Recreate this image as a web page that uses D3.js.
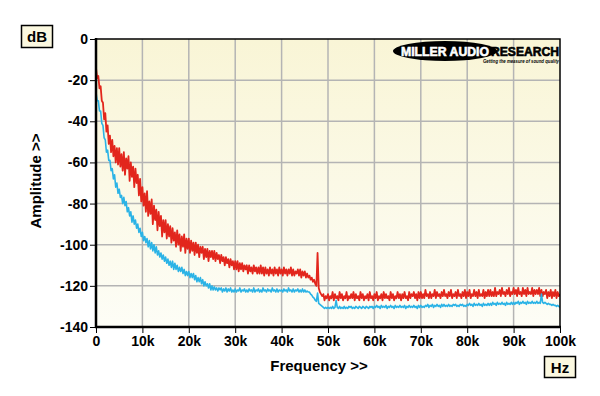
<!DOCTYPE html>
<html><head><meta charset="utf-8">
<script src="https://cdn.jsdelivr.net/npm/d3@7"></script>
<style>
html,body{margin:0;padding:0;background:#fff;}
svg{display:block;font-family:"Liberation Sans",Arial,sans-serif;}
</style></head>
<body>
<svg id="chart" width="600" height="396"></svg>
<script>
// ---- data ----
const stepHz = 250;
const freqHz = d3.range(0, 100000 + stepHz, stepHz); // 401 analysis bins
const redDb = [
-14,-19,-18,-24,-23,-30,-31,-39,-36,-45,-42,-51,-47,-55,-49,-57,-52,-60,-53,-61,
-53,-62,-56,-64,-55,-66,-58,-63,-57,-69,-60,-67,-62,-72,-63,-70,-66,-76,-68,-79,
-72,-81,-75,-84,-74,-86,-79,-85,-78,-90,-81,-88,-83,-93,-84,-91,-86,-96,-88,-94,
-88,-97,-90,-96,-91,-99,-92,-98,-94,-101,-93,-100,-95,-103,-96,-101,-95,-104,-97,-102,
-97,-104,-98,-103,-99,-105,-99,-104,-100,-106,-101,-104,-101,-107,-102,-106,-102,-108,-103,-106,
-103,-107,-103,-108,-104,-107,-105,-109,-105,-108,-106,-110,-106,-109,-107,-111,-107,-110,-108,-112,
-108,-112,-108,-113,-109,-112,-109,-113,-110,-112,-110,-114,-110,-113,-111,-114,-110,-113,-111,-114,
-111,-114,-110,-114,-111,-115,-111,-114,-112,-115,-111,-114,-112,-115,-111,-114,-112,-115,-111,-114,
-112,-115,-111,-114,-112,-115,-112,-114,-111,-115,-112,-115,-113,-114,-112,-115,-112,-116,-113,-115,
-113,-116,-114,-116,-115,-117,-116,-118,-117,-119,-120,-104,-121,-123,-124,-125,-124,-127,-125,-126,
-124,-127,-125,-126,-123,-127,-124,-126,-125,-127,-123,-126,-124,-127,-125,-126,-123,-127,-125,-126,
-124,-126,-123,-127,-124,-126,-125,-127,-123,-126,-124,-127,-125,-126,-124,-127,-123,-126,-125,-127,
-124,-126,-123,-127,-125,-126,-124,-127,-123,-126,-124,-126,-125,-127,-123,-126,-124,-127,-125,-126,
-123,-126,-124,-127,-124,-126,-123,-126,-125,-127,-123,-126,-124,-125,-123,-126,-124,-127,-123,-126,
-123,-126,-124,-126,-122,-125,-124,-126,-123,-126,-124,-125,-122,-126,-123,-125,-124,-126,-123,-125,
-122,-125,-124,-126,-123,-125,-122,-126,-124,-125,-123,-126,-122,-125,-124,-126,-123,-125,-122,-126,
-123,-125,-122,-126,-124,-125,-122,-125,-123,-126,-122,-125,-124,-125,-122,-126,-123,-125,-122,-125,
-122,-125,-123,-125,-121,-125,-123,-124,-122,-125,-121,-124,-123,-125,-122,-124,-121,-125,-123,-124,
-121,-124,-122,-125,-121,-124,-123,-125,-121,-124,-122,-125,-121,-124,-123,-124,-121,-125,-122,-124,
-122,-124,-121,-125,-122,-125,-123,-124,-122,-126,-123,-125,-122,-126,-123,-125,-122,-126,-123,-125,
-124];
const blueDb = [
-26,-30,-30,-35,-35,-41,-42,-48,-49,-55,-54,-59,-59,-64,-63,-68,-66,-72,-70,-75,
-73,-77,-76,-80,-77,-81,-79,-84,-82,-86,-84,-89,-86,-90,-88,-92,-90,-94,-92,-96,
-94,-98,-96,-99,-97,-101,-98,-102,-99,-103,-100,-104,-101,-105,-103,-106,-104,-107,-105,-108,
-106,-109,-107,-110,-108,-111,-108,-112,-109,-112,-110,-113,-111,-113,-111,-114,-112,-115,-113,-115,
-113,-116,-114,-116,-114,-117,-115,-118,-116,-118,-116,-119,-117,-120,-118,-120,-119,-121,-119,-122,
-120,-122,-120.5,-122,-121,-122.5,-121,-122,-121,-123,-121.5,-122.5,-121,-123,-121.5,-122.5,-121,-123,-122,-123,
-121.5,-123,-122,-122.5,-121,-123,-122,-122.5,-121.5,-123,-122,-123,-121.5,-122.5,-122,-123,-121,-123,-122,-122.5,
-121.5,-123,-122,-123,-121,-122.5,-122,-123,-121.5,-122.5,-122,-123,-121,-122.5,-122,-123,-121.5,-123,-122,-122.5,
-122,-123,-121.5,-122.5,-122,-123,-121,-122.5,-122,-123,-121.5,-123,-122,-122.5,-121.5,-123,-122,-123,-121.5,-123,
-122,-123,-122.5,-123,-123,-124,-124.5,-125.5,-126,-127,-127.5,-123.5,-128.5,-129,-129.5,-130,-130.5,-131,-130.5,-131,
-130.5,-131,-130.5,-131,-130,-131,-130.5,-127,-130.5,-131,-130,-131,-130.5,-131,-130,-131,-130.5,-131,-130,-130.5,
-130,-131,-130.5,-131,-130,-130.5,-131,-130,-130.5,-131,-130,-130.5,-131,-130,-130.5,-131,-130,-130.5,-130,-131,
-130,-130.5,-129.5,-130.5,-130,-131,-129.5,-130.5,-130,-130.5,-129.5,-131,-130,-130.5,-129.5,-130.5,-130,-131,-129.5,-130.5,
-130,-130.5,-129.5,-130.5,-130,-130.5,-129.5,-131,-130,-130.5,-129.5,-130.5,-130,-130.5,-129.5,-130.5,-130,-131,-129.5,-130.5,
-129.5,-130.5,-130,-130.5,-129.5,-130,-129,-130.5,-129.5,-130,-129,-130.5,-129.5,-130,-129,-130,-129.5,-130.5,-129,-130,
-129,-130,-129.5,-130,-129,-130,-129.5,-130,-129,-129.5,-129,-130,-129.5,-130,-129,-129.5,-129,-130,-129.5,-130,
-129,-129.5,-128.5,-129.5,-129,-130,-128.5,-129.5,-129,-129.5,-128.5,-129.5,-129,-130,-128.5,-129.5,-129,-129.5,-128.5,-129.5,
-128.5,-129.5,-128,-129,-128.5,-129.5,-128,-129,-128.5,-129,-128,-129,-128.5,-129.5,-128,-129,-128.5,-129,-128,-129,
-128,-129,-128,-128.5,-127.5,-129,-128,-128.5,-127.5,-128.5,-128,-129,-127.5,-128.5,-128,-128.5,-127.5,-128.5,-128,-128.5,
-127.5,-128.5,-128,-128.5,-124,-128,-128.5,-128,-128.5,-129,-128.5,-129,-129,-129.5,-129,-129.5,-129.5,-130,-129.5,-130,
-130.5];
const xTickValues = [0,10000,20000,30000,40000,50000,60000,70000,80000,90000,100000];
const xTickLabels = ["0","10k","20k","30k","40k","50k","60k","70k","80k","90k","100k"];
const yTickValues = [0,-20,-40,-60,-80,-100,-120,-140];
const yTickLabels = ["0","-20","-40","-60","-80","-100","-120","-140"];

// ---- drawing ----
const svg = d3.select("#chart");
const L = 96, R = 560, T = 39, B = 327;
const x = d3.scaleLinear().domain([0, 100000]).range([L, R]);
const y = d3.scaleLinear().domain([-140, 0]).range([B, T]);

const defs = svg.append("defs");
const grad = defs.append("linearGradient").attr("id","bg").attr("x1",0).attr("y1",0).attr("x2",0).attr("y2",1);
grad.append("stop").attr("offset","0%").attr("stop-color","#f9f5d6");
grad.append("stop").attr("offset","100%").attr("stop-color","#fdfdf6");
defs.append("clipPath").attr("id","clip").append("rect")
  .attr("x",L).attr("y",T-1).attr("width",R-L).attr("height",B-T+1);

svg.append("rect").attr("x",L).attr("y",T).attr("width",R-L).attr("height",B-T).attr("fill","url(#bg)");

// grid
const grid = svg.append("g").attr("stroke","#b4b4b4").attr("stroke-width",1.5);
grid.selectAll("line.v").data(xTickValues.slice(1,-1)).join("line")
  .attr("x1",d=>x(d)).attr("x2",d=>x(d)).attr("y1",T).attr("y2",B);
grid.selectAll("line.h").data(yTickValues.slice(1,-1)).join("line")
  .attr("x1",L).attr("x2",R).attr("y1",d=>y(d)).attr("y2",d=>y(d));

// logo
const logo = svg.append("g");
logo.append("ellipse").attr("cx",445).attr("cy",51).attr("rx",52).attr("ry",10).attr("fill","#000");
logo.append("text").attr("x",401).attr("y",56).attr("fill","#fff").attr("stroke","#fff").attr("stroke-width",0.6).attr("font-weight","bold")
  .attr("font-size",12.5).attr("textLength",88).attr("lengthAdjust","spacingAndGlyphs").text("MILLER AUDIO");
logo.append("text").attr("x",491).attr("y",56).attr("fill","#000").attr("stroke","#000").attr("stroke-width",0.6).attr("font-weight","bold")
  .attr("font-size",12.5).attr("textLength",68).attr("lengthAdjust","spacingAndGlyphs").text("RESEARCH");
logo.append("text").attr("x",483).attr("y",62.5).attr("fill","#000").attr("font-weight","bold").attr("font-style","italic")
  .attr("font-size",5).attr("textLength",76).attr("lengthAdjust","spacingAndGlyphs").text("Getting the measure of sound quality");

// series
const line = d3.line().x((d,i)=>x(freqHz[i])).y(d=>y(d));
const plot = svg.append("g").attr("clip-path","url(#clip)");
plot.append("path").datum(redDb).attr("d",line).attr("fill","none")
  .attr("stroke","#e2261c").attr("stroke-width",1.8).attr("stroke-linejoin","round");
plot.append("path").datum(blueDb).attr("d",line).attr("fill","none")
  .attr("stroke","#2bb3e6").attr("stroke-width",1.6).attr("stroke-linejoin","round");

// frame
svg.append("rect").attr("x",L).attr("y",T).attr("width",R-L).attr("height",B-T)
  .attr("fill","none").attr("stroke","#000").attr("stroke-width",1.5);
svg.append("line").attr("x1",L).attr("x2",L).attr("y1",T-1).attr("y2",B+1).attr("stroke","#000").attr("stroke-width",2.5);
svg.append("line").attr("x1",L-1).attr("x2",R+1).attr("y1",B).attr("y2",B).attr("stroke","#000").attr("stroke-width",2.5);

// axes
const xAxis = d3.axisBottom(x).tickValues(xTickValues).tickFormat((d,i)=>xTickLabels[i]).tickSize(5).tickPadding(3);
const gx = svg.append("g").attr("transform",`translate(0,${B+1})`).call(xAxis);
gx.select(".domain").remove();
gx.selectAll("line").attr("stroke","#000");
gx.selectAll("text").attr("font-family","Liberation Sans, Arial, sans-serif").attr("font-weight","bold").attr("font-size",14).attr("fill","#000");

const yAxis = d3.axisLeft(y).tickValues(yTickValues).tickFormat((d,i)=>yTickLabels[i]).tickSize(5).tickPadding(2);
const gy = svg.append("g").attr("transform",`translate(${L-1},0)`).call(yAxis);
gy.select(".domain").remove();
gy.selectAll("line").attr("stroke","#000");
gy.selectAll("text").attr("font-family","Liberation Sans, Arial, sans-serif").attr("font-weight","bold").attr("font-size",14).attr("fill","#000");

// axis titles
svg.append("text").attr("x",319).attr("y",371).attr("text-anchor","middle").attr("font-weight","bold")
  .attr("font-size",15).text("Frequency >>");
svg.append("text").attr("transform","translate(41,181) rotate(-90)").attr("text-anchor","middle").attr("font-weight","bold")
  .attr("font-size",15).text("Amplitude >>");

// unit boxes
function unitBox(bx, by, w, h, label){
  svg.append("rect").attr("x",bx).attr("y",by).attr("width",w).attr("height",h)
    .attr("fill","#fbf8e0").attr("stroke","#000").attr("stroke-width",1.5);
  svg.append("text").attr("x",bx+w/2).attr("y",by+h/2+5.5).attr("text-anchor","middle")
    .attr("font-weight","bold").attr("font-size",15).text(label);
}
unitBox(21.5, 25.5, 31, 22, "dB");
unitBox(544.5, 356.5, 31, 21, "Hz");
</script>
</body></html>
